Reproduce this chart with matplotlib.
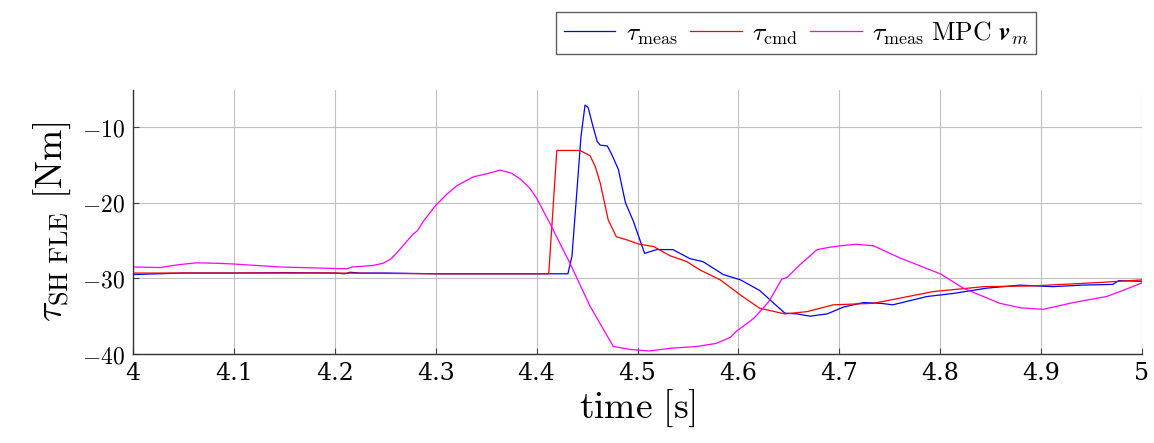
import matplotlib
matplotlib.use("Agg")
import matplotlib.pyplot as plt

plt.rcParams["font.family"] = ["DejaVu Serif"]
plt.rcParams["mathtext.fontset"] = "cm"
plt.rcParams["axes.formatter.use_mathtext"] = True

# measured torque
t_meas = [4.0, 4.05, 4.10, 4.15, 4.20, 4.21, 4.215, 4.225, 4.25, 4.30, 4.35, 4.40,
          4.431, 4.435, 4.440, 4.444, 4.448, 4.451, 4.456, 4.460, 4.463, 4.470, 4.474,
          4.481, 4.488, 4.496, 4.507, 4.519, 4.535, 4.552, 4.565, 4.585, 4.602, 4.621,
          4.646, 4.658, 4.671, 4.688, 4.704, 4.724, 4.741, 4.753, 4.787, 4.813, 4.846,
          4.879, 4.912, 4.940, 4.971, 4.977, 5.0]
meas = [-29.5, -29.3, -29.3, -29.25, -29.3, -29.4, -29.2, -29.3, -29.3, -29.4, -29.4, -29.4,
        -29.4, -27.1, -18.3, -11.2, -7.1, -7.4, -10.0, -11.9, -12.4, -12.5, -13.5,
        -15.6, -20.0, -22.5, -26.7, -26.2, -26.2, -27.4, -27.8, -29.5, -30.2, -31.6,
        -34.6, -34.7, -35.0, -34.7, -33.8, -33.2, -33.3, -33.5, -32.4, -32.0, -31.3,
        -30.9, -31.1, -30.9, -30.8, -30.3, -30.4]

# commanded torque
t_cmd = [4.0, 4.1, 4.2, 4.3, 4.412, 4.420, 4.443, 4.453, 4.458, 4.463, 4.471, 4.479,
         4.489, 4.502, 4.516, 4.532, 4.549, 4.562, 4.582, 4.602, 4.621, 4.646, 4.668,
         4.694, 4.734, 4.793, 4.843, 4.892, 4.958, 5.0]
cmd = [-29.3, -29.3, -29.3, -29.4, -29.4, -13.1, -13.1, -13.8, -15.2, -17.4, -22.3, -24.5,
       -24.9, -25.5, -25.8, -27.0, -27.8, -28.9, -30.2, -32.2, -33.95, -34.7, -34.4,
       -33.5, -33.3, -31.75, -31.1, -31.0, -30.55, -30.2]

# measured torque, MPC v_m
t_mpc = [4.0, 4.027, 4.045, 4.063, 4.080, 4.099, 4.146, 4.212, 4.217, 4.238, 4.248, 4.255,
         4.261, 4.270, 4.278, 4.282, 4.287, 4.299, 4.310, 4.321, 4.337, 4.350, 4.364,
         4.375, 4.384, 4.393, 4.400, 4.413, 4.433, 4.453, 4.476, 4.493, 4.512,
         4.532, 4.559, 4.578, 4.592, 4.598, 4.607, 4.615, 4.620, 4.630, 4.643, 4.648,
         4.661, 4.678, 4.690, 4.701, 4.717, 4.734, 4.760, 4.800, 4.823, 4.859, 4.880,
         4.902, 4.932, 4.965, 4.981, 5.0]
mpc = [-28.5, -28.57, -28.2, -27.95, -28.0, -28.1, -28.5, -28.74, -28.5, -28.3, -28.0, -27.5,
       -26.7, -25.3, -24.1, -23.7, -22.6, -20.5, -19.0, -17.75, -16.6, -16.2, -15.7,
       -16.1, -16.9, -18.05, -19.4, -22.7, -28.0, -33.7, -39.0, -39.4, -39.6,
       -39.25, -39.0, -38.6, -37.8, -37.0, -36.1, -35.3, -34.6, -33.1, -30.1, -29.9,
       -28.2, -26.2, -25.9, -25.7, -25.5, -25.7, -27.3, -29.4, -31.3, -33.3, -33.9,
       -34.1, -33.2, -32.4, -31.6, -30.6]

x_ticks = [4.0, 4.1, 4.2, 4.3, 4.4, 4.5, 4.6, 4.7, 4.8, 4.9, 5.0]
x_labels = ["4", "4.1", "4.2", "4.3", "4.4", "4.5", "4.6", "4.7", "4.8", "4.9", "5"]
y_ticks = [-40, -30, -20, -10]

fig = plt.figure(figsize=(11.54, 4.43), dpi=100)
ax = fig.add_axes([0.1153, 0.2009, 0.8743, 0.5961])

ax.plot(t_meas, meas, color="blue", lw=0.9, label=r"$\tau_{\mathrm{meas}}$")
ax.plot(t_cmd, cmd, color="red", lw=0.9, label=r"$\tau_{\mathrm{cmd}}$")
ax.plot(t_mpc, mpc, color="magenta", lw=0.9,
        label=r"$\tau_{\mathrm{meas}}\ \mathrm{MPC}\ \mathbfit{v}_m$")

ax.set_xlim(4, 5)
ax.set_ylim(-40, -5.1)
ax.set_xticks(x_ticks)
ax.set_xticklabels(x_labels)
ax.set_yticks(y_ticks)
ax.set_yticklabels([r"$-%d$" % abs(v) for v in y_ticks])
ax.grid(True, color="#c0c0c0", lw=0.8)
ax.set_axisbelow(True)
ax.tick_params(direction="in", length=4, width=0.8, color="#444444", labelsize=17, pad=6)
for side in ["top", "right"]:
    ax.spines[side].set_visible(False)
for side in ["left", "bottom"]:
    ax.spines[side].set_color("#333333")
    ax.spines[side].set_linewidth(1.0)

ax.set_xlabel(r"$\mathrm{time\ [s]}$", fontsize=27, labelpad=2)
ax.set_ylabel(r"$\tau_{\mathrm{SH\ FLE}}\ \mathrm{[Nm]}$", fontsize=27, labelpad=6)

fig.legend(loc="upper center", bbox_to_anchor=(0.69, 1.003), ncol=3, fontsize=18.5,
           frameon=True, fancybox=False, edgecolor="#333333", handlelength=2.0,
           columnspacing=0.5, handletextpad=0.4, borderpad=0.3)

fig.savefig("out.png", dpi=100)
